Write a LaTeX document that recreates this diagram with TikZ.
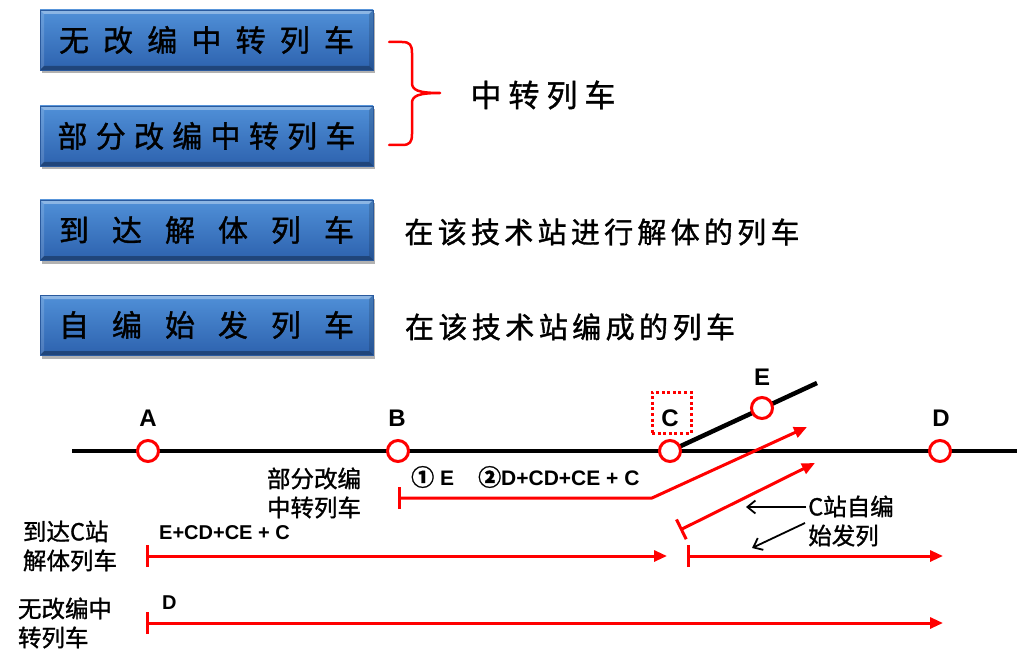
\documentclass[tikz,border=0pt]{standalone}
\usepackage{fontspec}
\setmainfont{Liberation Sans}
\newfontfamily\cjk{Noto Sans CJK SC}[FakeBold=1.2]
\usetikzlibrary{arrows.meta,shadows,backgrounds}
\definecolor{boxtop}{HTML}{5090D8}
\definecolor{boxbot}{HTML}{2D62AE}
\definecolor{boxedge}{HTML}{2A5A9E}
\definecolor{trainred}{HTML}{FF0000}
\tikzset{
  bluebox/.style={rectangle, minimum width=333pt, minimum height=60pt, inner sep=0pt,
    top color=boxtop, bottom color=boxbot, draw=boxedge, line width=0.5pt,
    drop shadow={shadow xshift=1.5pt, shadow yshift=-3.5pt, opacity=0.3, fill=black},
    path picture={
      \fill[white,opacity=0.35] (path picture bounding box.north west) -- (path picture bounding box.north east)
        -- ([xshift=-4pt,yshift=-4pt]path picture bounding box.north east) -- ([xshift=4pt,yshift=-4pt]path picture bounding box.north west) -- cycle;
      \fill[black,opacity=0.3] (path picture bounding box.south west) -- (path picture bounding box.south east)
        -- ([xshift=-4pt,yshift=4pt]path picture bounding box.south east) -- ([xshift=4pt,yshift=4pt]path picture bounding box.south west) -- cycle;
      \fill[white,opacity=0.15] (path picture bounding box.north west) -- (path picture bounding box.south west)
        -- ([xshift=4pt,yshift=4pt]path picture bounding box.south west) -- ([xshift=4pt,yshift=-4pt]path picture bounding box.north west) -- cycle;
      \fill[black,opacity=0.15] (path picture bounding box.north east) -- (path picture bounding box.south east)
        -- ([xshift=-4pt,yshift=4pt]path picture bounding box.south east) -- ([xshift=-4pt,yshift=-4pt]path picture bounding box.north east) -- cycle;
    },
    font=\cjk\fontsize{30}{30}\selectfont, text=black},
  bigtext/.style={font=\cjk\fontsize{29}{29}\selectfont, inner sep=0pt},
  smalltext/.style={font=\cjk\fontsize{23.5}{29}\selectfont, align=left, inner sep=0pt},
  track/.style={line width=4.5pt, black},
  station/.style={circle, draw=trainred, fill=white, line width=3pt, minimum size=21pt, inner sep=0pt},
  stlabel/.style={font=\bfseries\fontsize{24}{24}\selectfont, inner sep=0pt},
  trlabel/.style={font=\bfseries\fontsize{20}{20}\selectfont, inner sep=0pt, anchor=west},
  train/.style={trainred, line width=3pt, {Bar[width=22pt,line width=3pt]}-{Triangle[length=13pt,width=11pt]}},
  pointer/.style={black, line width=1.8pt, -{Straight Barb[length=8pt,width=13pt,line width=1.8pt]}},
}
\begin{document}
\begin{tikzpicture}[x=1pt,y=-1pt]
\useasboundingbox (0,0) rectangle (1017,671);

% boxes
\node[bluebox] (b1) at (206.5,40) {\makebox[295pt][s]{无\hfill 改\hfill 编\hfill 中\hfill 转\hfill 列\hfill 车}};
\node[bluebox] (b2) at (206.5,136) {\makebox[298pt][s]{部\hfill 分\hfill 改\hfill 编\hfill 中\hfill 转\hfill 列\hfill 车}};
\node[bluebox] (b3) at (206.5,230) {\makebox[295pt][s]{到\hfill 达\hfill 解\hfill 体\hfill 列\hfill 车}};
\node[bluebox] (b4) at (206.5,325) {\makebox[295pt][s]{自\hfill 编\hfill 始\hfill 发\hfill 列\hfill 车}};

% brace
\draw[trainred, line width=2.5pt, line cap=round, line join=round]
  (389,42) -- (402,42) .. controls (410,42) and (412,45) .. (412,53)
  -- (412,83) .. controls (412,90) and (418,93) .. (440,93)
  .. controls (418,93) and (412,96) .. (412,103)
  -- (412,134) .. controls (412,142) and (410,145) .. (402,145) -- (389,145);
\node[bigtext, font=\cjk\fontsize{31}{31}\selectfont] (zz) at (543,95) {\makebox[145pt][s]{中\hfill 转\hfill 列\hfill 车}};
\node[bigtext] (t3) at (602,232) {\makebox[395pt][s]{在\hfill 该\hfill 技\hfill 术\hfill 站\hfill 进\hfill 行\hfill 解\hfill 体\hfill 的\hfill 列\hfill 车}};
\node[bigtext] (t4) at (570,327) {\makebox[330pt][s]{在\hfill 该\hfill 技\hfill 术\hfill 站\hfill 编\hfill 成\hfill 的\hfill 列\hfill 车}};

% stations
\node[station] (A) at (148,451) {};
\node[station] (B) at (398,451) {};
\node[station] (C) at (670,451) {};
\node[station] (D) at (940,451) {};
\node[station] (E) at (762,408) {};
\coordinate (L) at (72,451);
\coordinate (R) at (1017,451);
\coordinate (Eend) at (817,383);
\begin{pgfonlayer}{background}
\draw[track] (L) -- (R);
\draw[track] (C.center) -- (Eend);
\end{pgfonlayer}
\node[stlabel] (lA) at (148,418) {A};
\node[stlabel] (lB) at (397,418) {B};
\node[stlabel] (lC) at (670,418) {C};
\node[stlabel] (lD) at (941,418) {D};
\node[stlabel] (lE) at (762,377) {E};
\node[draw=trainred, line width=3pt, dash pattern=on 3pt off 2.6pt, minimum width=39pt, minimum height=41pt, inner sep=0pt] (Cbox) at (671.5,412.5) {};

% train 1: partial reclassification transfer
\coordinate (p1s) at (398,498);
\coordinate (p1k) at (652,498);
\coordinate (p1e) at (807,427);
\draw[train, line join=round] (p1s) -- (p1k) -- (p1e);
\node[trlabel, font=\bfseries\fontsize{21}{21}\selectfont] (l1) at (411,477) {{\cjk\fontsize{23}{23}\selectfont ①}\hspace{6pt}E\hspace{24pt}{\cjk\fontsize{23}{23}\selectfont ②}D+CD+CE + C};
\node[smalltext] (n1) at (314,493) {部分改编\\中转列车};

% train 2: originating at C
\coordinate (p2s) at (680,530);
\coordinate (p2e) at (815,463);
\draw[train] (p2s) -- (p2e);
\node[smalltext] (n2) at (851,521) {C站自编\\始发列};
\coordinate (q1s) at (806,507);
\coordinate (q1e) at (746,507);
\coordinate (q2s) at (805,523);
\coordinate (q2e) at (752,548);
\draw[pointer] (q1s) -- (q1e);
\draw[pointer] (q2s) -- (q2e);

% train 3: arriving for breakup
\coordinate (p3s) at (146,556);
\coordinate (p3e) at (667,556);
\draw[train] (p3s) -- (p3e);
\node[trlabel] (l3) at (159,533) {E+CD+CE + C};
\node[smalltext] (n3) at (70,546) {到达C站\\解体列车};

% train 4: originating at C to D
\coordinate (p4s) at (687,556);
\coordinate (p4e) at (943,556);
\draw[train] (p4s) -- (p4e);

% train 5: no-reclassification transfer
\coordinate (p5s) at (146,623);
\coordinate (p5e) at (943,623);
\draw[train] (p5s) -- (p5e);
\node[trlabel] (l5) at (162,603) {D};
\node[smalltext] (n5) at (65,623) {无改编中\\转列车};
\end{tikzpicture}
\end{document}
